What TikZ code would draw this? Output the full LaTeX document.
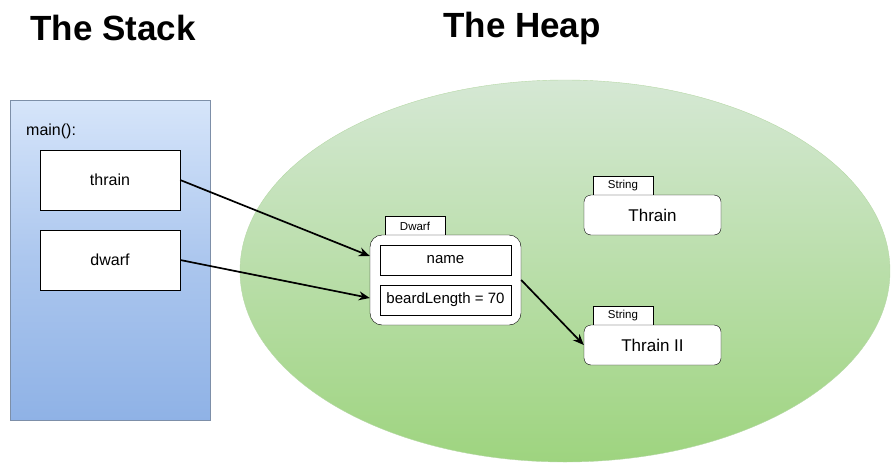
\documentclass[tikz,border=0pt]{standalone}
\usepackage{fontspec}
\setmainfont{Liberation Sans}
\usetikzlibrary{arrows.meta,shadings}
\definecolor{stacktop}{HTML}{D6E5FA}
\definecolor{stackbot}{HTML}{8FB2E6}
\definecolor{stackline}{HTML}{7D8FA8}
\definecolor{heaptop}{HTML}{D5E8D4}
\definecolor{heapbot}{HTML}{9ED47F}
\definecolor{heapline}{HTML}{B6D8A6}
\tikzset{
  title/.style={font=\fontsize{35}{40}\selectfont\bfseries, inner sep=0pt},
  varbox/.style={draw=black, fill=white, minimum width=140pt, minimum height=60pt, inner sep=0pt, font=\fontsize{16}{18}\selectfont},
  fieldbox/.style={draw=black, fill=white, minimum width=131pt, minimum height=30pt, inner sep=0pt, font=\fontsize{15}{17}\selectfont},
  objbox/.style={draw=black, fill=white, rounded corners=12pt, minimum width=151pt, minimum height=90pt, inner sep=0pt},
  strbox/.style={draw=black, fill=white, rounded corners=7pt, minimum width=137pt, minimum height=40pt, inner sep=0pt, font=\fontsize{17}{19}\selectfont},
  tabbox/.style={draw=black, fill=white, minimum width=60pt, minimum height=19pt, inner sep=0pt, font=\fontsize{11.5}{13}\selectfont},
  ptr/.style={draw=black, line width=1.7pt, -{Stealth[length=11pt,width=9pt]}},
}
\begin{document}
\begin{tikzpicture}[x=1pt,y=-1pt]
\useasboundingbox (0,0) rectangle (891,471);
% titles
\node[title] (stacktitle) at (113,28) {The Stack};
\node[title] (heaptitle) at (522,28) {The Heap};
% stack
\shade[top color=stacktop, bottom color=stackbot, middle color=stackbot!60!stacktop, draw=stackline] (10,100) rectangle (210,420);
\node[anchor=west, inner sep=0pt, font=\fontsize{16}{18}\selectfont] (mainlbl) at (26,131) {main():};
\node[varbox] (thrain) at (110,180) {thrain};
\node[varbox] (dwarf) at (110,260) {dwarf};
% heap
\shade[top color=heaptop, bottom color=heapbot, draw=heapline] (565,271) ellipse [x radius=325, y radius=191];
% Dwarf object
\node[tabbox] (dwarftab) at (415,226) {Dwarf};
\node[objbox] (dwarfobj) at (445.5,280) {};
\node[fieldbox] (namef) at (445.5,260) {name};
\node[fieldbox] (beardf) at (445.5,300) {beardLength = 70};
% Strings
\node[tabbox] (strtab1) at (623,186) {String};
\node[strbox] (str1) at (652.5,215) {Thrain};
\node[tabbox] (strtab2) at (623,316) {String};
\node[strbox] (str2) at (652.5,345) {Thrain II};
% pointers
\draw[ptr] (thrain.east) -- ([yshift=24pt]dwarfobj.west);
\draw[ptr] (dwarf.east) -- ([yshift=-18pt]dwarfobj.west);
\draw[ptr] (dwarfobj.east) -- (str2.west);
\end{tikzpicture}
\end{document}
